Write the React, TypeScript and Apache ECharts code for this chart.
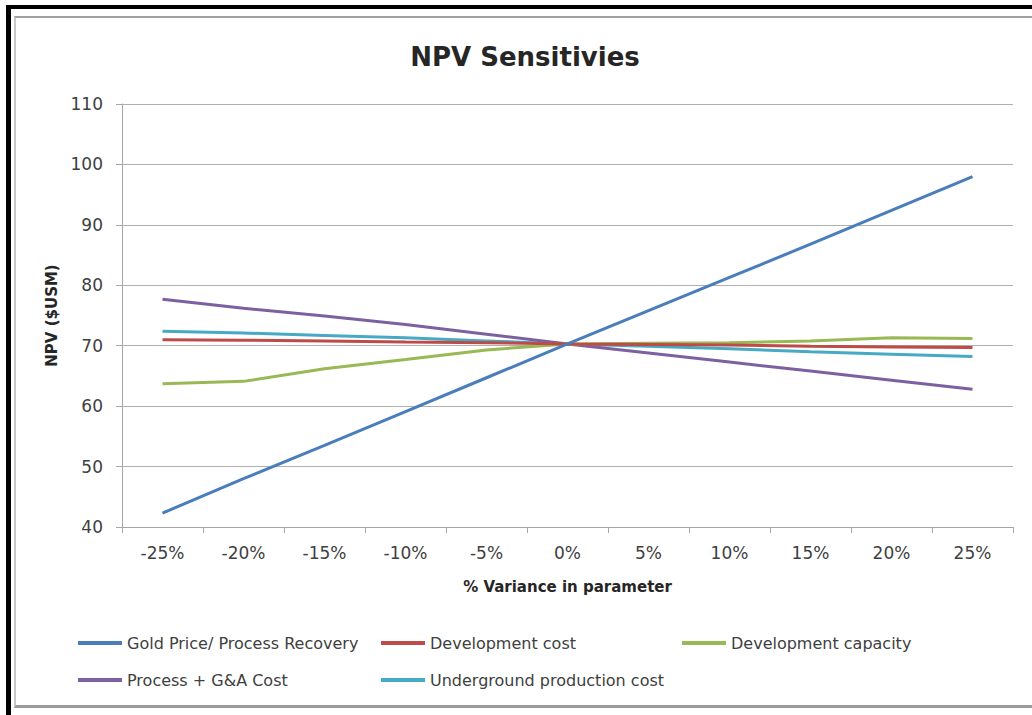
import React, { useEffect, useRef } from "react";
import * as echarts from "echarts";

const categories = ["-25%", "-20%", "-15%", "-10%", "-5%", "0%", "5%", "10%", "15%", "20%", "25%"];
const goldPrice = [42.3, 48.0, 53.5, 59.1, 64.7, 70.3, 75.8, 81.3, 86.8, 92.4, 98.0];
const devCost = [71.0, 70.9, 70.8, 70.6, 70.5, 70.3, 70.2, 70.1, 69.9, 69.8, 69.7];
const devCapacity = [63.7, 64.1, 66.2, 67.7, 69.3, 70.3, 70.4, 70.5, 70.8, 71.3, 71.2];
const processGA = [77.7, 76.2, 74.9, 73.5, 71.9, 70.3, 68.8, 67.3, 65.8, 64.3, 62.8];
const undergroundCost = [72.4, 72.1, 71.7, 71.3, 70.8, 70.3, 69.9, 69.5, 69.0, 68.6, 68.2];

const seriesNames = [
  "Gold Price/ Process Recovery",
  "Development cost",
  "Development capacity",
  "Process + G&A Cost",
  "Underground production cost",
];
const seriesColors = ["#4A7EBB", "#BE4B48", "#98B954", "#7D60A0", "#46AAC5"];
const seriesData = [goldPrice, devCost, devCapacity, processGA, undergroundCost];

const FONT = "'DejaVu Sans', 'Noto Sans', sans-serif";

export default function App() {
  const ref = useRef<HTMLDivElement>(null);

  useEffect(() => {
    if (!ref.current) return;
    const chart = echarts.init(ref.current, null, { renderer: "svg" });
    const legendCommon = {
      orient: "vertical" as const,
      top: 635,
      padding: 0,
      itemWidth: 44,
      itemHeight: 4,
      itemGap: 21,
      icon: "rect",
      textStyle: { fontSize: 16, color: "#404040", fontFamily: FONT },
    };
    chart.setOption({
      animation: false,
      backgroundColor: "transparent",
      textStyle: { fontFamily: FONT },
      title: {
        text: "NPV Sensitivies",
        left: 525,
        top: 44,
        padding: 0,
        textAlign: "center",
        textStyle: { fontSize: 26, fontWeight: "bold", color: "#262626", fontFamily: FONT },
      },
      legend: [
        { ...legendCommon, left: 78, data: [seriesNames[0], seriesNames[3]] },
        { ...legendCommon, left: 381, data: [seriesNames[1], seriesNames[4]] },
        { ...legendCommon, left: 682, data: [seriesNames[2]] },
      ],
      grid: { left: 122, right: 19, top: 104, bottom: 188, containLabel: false },
      xAxis: {
        type: "category",
        data: categories,
        boundaryGap: true,
        name: "% Variance in parameter",
        nameLocation: "middle",
        nameGap: 52,
        nameTextStyle: { fontSize: 15, fontWeight: "bold", color: "#262626", fontFamily: FONT },
        axisLine: { lineStyle: { color: "#a6a6a6", width: 1 } },
        axisTick: { show: true, length: 6, lineStyle: { color: "#a6a6a6" } },
        axisLabel: { fontSize: 17, color: "#404040", margin: 17, fontFamily: FONT },
        splitLine: { show: false },
      },
      yAxis: {
        type: "value",
        min: 40,
        max: 110,
        interval: 10,
        name: "NPV ($USM)",
        nameLocation: "middle",
        nameGap: 58,
        nameTextStyle: { fontSize: 15, fontWeight: "bold", color: "#262626", fontFamily: FONT },
        axisLine: { show: true, lineStyle: { color: "#a6a6a6", width: 1 } },
        axisTick: { show: true, length: 6, lineStyle: { color: "#a6a6a6" } },
        axisLabel: { fontSize: 17, color: "#404040", margin: 19, fontFamily: FONT },
        splitLine: { show: true, lineStyle: { color: "#b0b0b0", width: 1 } },
      },
      series: seriesNames.map((name, i) => ({
        name,
        type: "line",
        data: seriesData[i],
        symbol: "none",
        showSymbol: false,
        color: seriesColors[i],
        lineStyle: { width: 3, color: seriesColors[i] },
        z: 10 - i,
      })),
    });
    return () => chart.dispose();
  }, []);

  return (
    <div
      style={{
        position: "fixed",
        left: 0,
        top: 0,
        width: 1032,
        height: 715,
        background: "#fff",
        overflow: "hidden",
      }}
    >
      <div style={{ position: "absolute", left: 6, top: 5, width: 5, height: 710, background: "#000" }} />
      <div style={{ position: "absolute", left: 6, top: 5, width: 1026, height: 4, background: "#000" }} />
      <div
        style={{
          position: "absolute",
          left: 14,
          top: 16,
          width: 1030,
          height: 692,
          borderTop: "2px solid #a0a0a0",
          borderLeft: "2px solid #c8c8c8",
          borderBottom: "3px solid #9a9a9a",
          boxSizing: "border-box",
        }}
      />
      <div ref={ref} style={{ position: "absolute", left: 0, top: 0, width: 1032, height: 715 }} />
    </div>
  );
}
